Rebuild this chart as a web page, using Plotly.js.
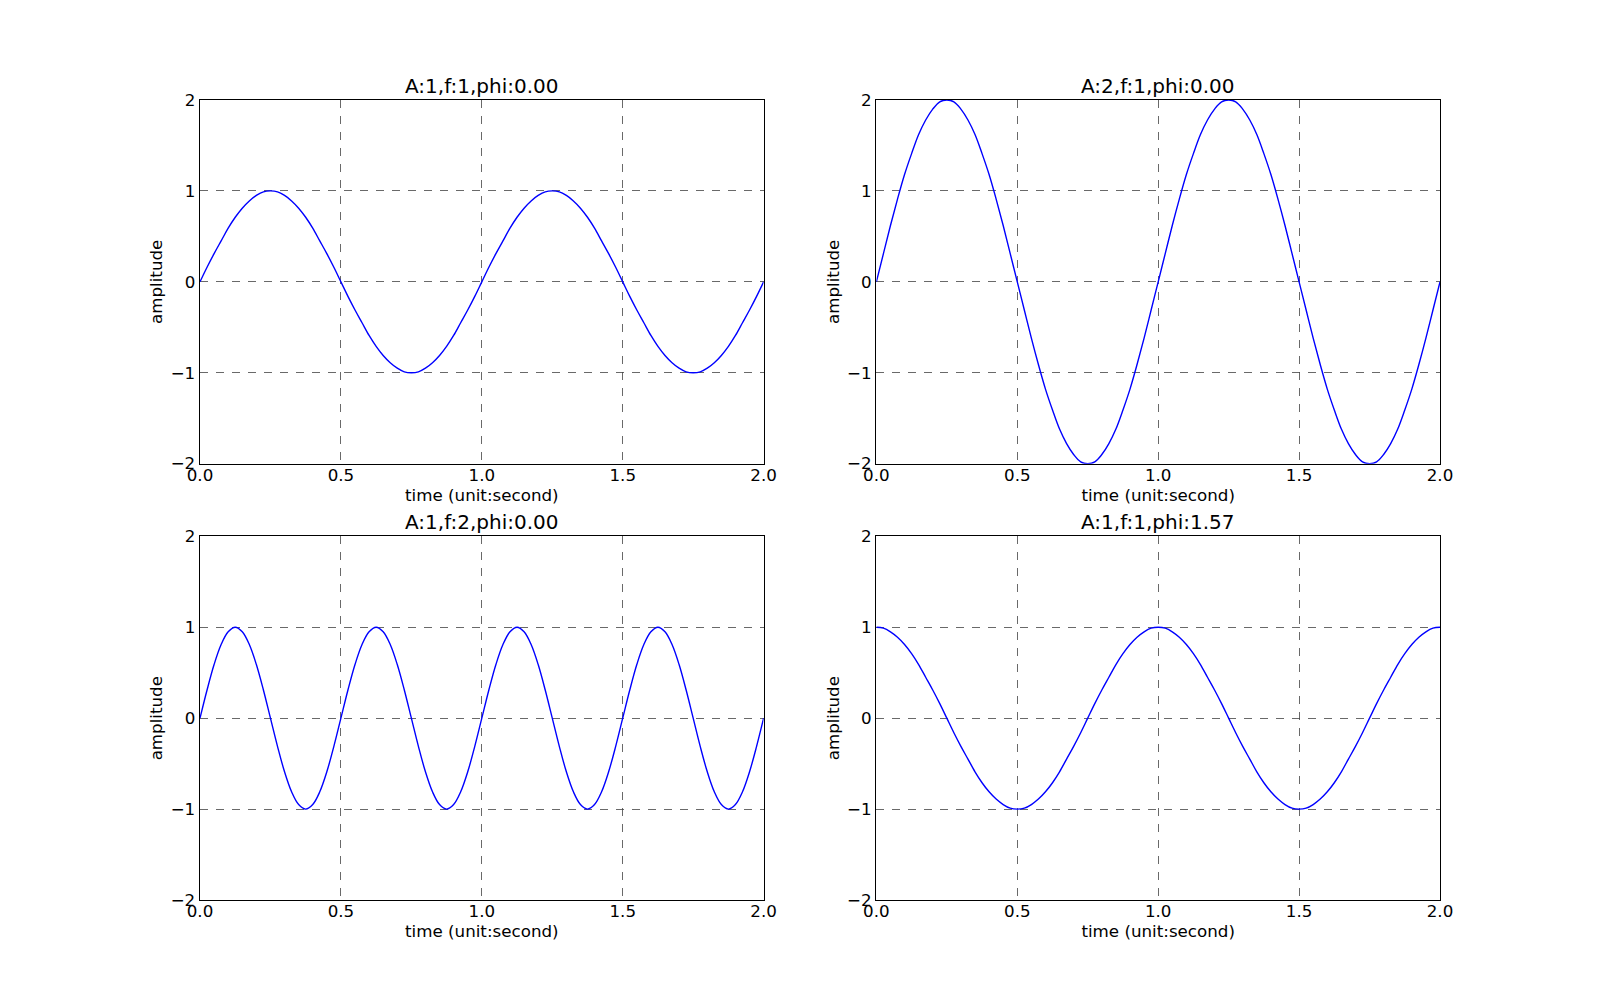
<!DOCTYPE html>
<html>
<head>
<meta charset="utf-8">
<script src="https://cdn.plot.ly/plotly-3.0.1.min.js"></script>
<style>html,body{margin:0;padding:0;background:#fff;}#chart{width:1600px;height:1000px;}</style>
</head>
<body>
<div id="chart"></div>
<script>
// time samples (seconds)
const time = [0,0.025,0.05,0.075,0.1,0.125,0.15,0.175,0.2,0.225,0.25,0.275,0.3,0.325,0.35,0.375,0.4,0.425,0.45,0.475,
  0.5,0.525,0.55,0.575,0.6,0.625,0.65,0.675,0.7,0.725,0.75,0.775,0.8,0.825,0.85,0.875,0.9,0.925,0.95,0.975,
  1,1.025,1.05,1.075,1.1,1.125,1.15,1.175,1.2,1.225,1.25,1.275,1.3,1.325,1.35,1.375,1.4,1.425,1.45,1.475,
  1.5,1.525,1.55,1.575,1.6,1.625,1.65,1.675,1.7,1.725,1.75,1.775,1.8,1.825,1.85,1.875,1.9,1.925,1.95,1.975,2];

// A:1, f:1, phi:0.00
const ampA1F1 = [0,0.16,0.31,0.45,0.59,0.71,0.81,0.89,0.95,0.99,1,0.99,0.95,0.89,0.81,0.71,0.59,0.45,0.31,0.16,
  0,-0.16,-0.31,-0.45,-0.59,-0.71,-0.81,-0.89,-0.95,-0.99,-1,-0.99,-0.95,-0.89,-0.81,-0.71,-0.59,-0.45,-0.31,-0.16,
  0,0.16,0.31,0.45,0.59,0.71,0.81,0.89,0.95,0.99,1,0.99,0.95,0.89,0.81,0.71,0.59,0.45,0.31,0.16,
  0,-0.16,-0.31,-0.45,-0.59,-0.71,-0.81,-0.89,-0.95,-0.99,-1,-0.99,-0.95,-0.89,-0.81,-0.71,-0.59,-0.45,-0.31,-0.16,0];

// A:2, f:1, phi:0.00
const ampA2F1 = [0,0.31,0.62,0.91,1.18,1.41,1.62,1.78,1.9,1.98,2,1.98,1.9,1.78,1.62,1.41,1.18,0.91,0.62,0.31,
  0,-0.31,-0.62,-0.91,-1.18,-1.41,-1.62,-1.78,-1.9,-1.98,-2,-1.98,-1.9,-1.78,-1.62,-1.41,-1.18,-0.91,-0.62,-0.31,
  0,0.31,0.62,0.91,1.18,1.41,1.62,1.78,1.9,1.98,2,1.98,1.9,1.78,1.62,1.41,1.18,0.91,0.62,0.31,
  0,-0.31,-0.62,-0.91,-1.18,-1.41,-1.62,-1.78,-1.9,-1.98,-2,-1.98,-1.9,-1.78,-1.62,-1.41,-1.18,-0.91,-0.62,-0.31,0];

// A:1, f:2, phi:0.00
const ampA1F2 = [0,0.31,0.59,0.81,0.95,1,0.95,0.81,0.59,0.31,0,-0.31,-0.59,-0.81,-0.95,-1,-0.95,-0.81,-0.59,-0.31,
  0,0.31,0.59,0.81,0.95,1,0.95,0.81,0.59,0.31,0,-0.31,-0.59,-0.81,-0.95,-1,-0.95,-0.81,-0.59,-0.31,
  0,0.31,0.59,0.81,0.95,1,0.95,0.81,0.59,0.31,0,-0.31,-0.59,-0.81,-0.95,-1,-0.95,-0.81,-0.59,-0.31,
  0,0.31,0.59,0.81,0.95,1,0.95,0.81,0.59,0.31,0,-0.31,-0.59,-0.81,-0.95,-1,-0.95,-0.81,-0.59,-0.31,0];

// A:1, f:1, phi:1.57
const ampA1F1P = [1,0.99,0.95,0.89,0.81,0.71,0.59,0.45,0.31,0.16,0,-0.16,-0.31,-0.45,-0.59,-0.71,-0.81,-0.89,-0.95,-0.99,
  -1,-0.99,-0.95,-0.89,-0.81,-0.71,-0.59,-0.45,-0.31,-0.16,0,0.16,0.31,0.45,0.59,0.71,0.81,0.89,0.95,0.99,
  1,0.99,0.95,0.89,0.81,0.71,0.59,0.45,0.31,0.16,0,-0.16,-0.31,-0.45,-0.59,-0.71,-0.81,-0.89,-0.95,-0.99,
  -1,-0.99,-0.95,-0.89,-0.81,-0.71,-0.59,-0.45,-0.31,-0.16,0,0.16,0.31,0.45,0.59,0.71,0.81,0.89,0.95,0.99,1];

const titles = ["A:1,f:1,phi:0.00", "A:2,f:1,phi:0.00", "A:1,f:2,phi:0.00", "A:1,f:1,phi:1.57"];
const seriesList = [ampA1F1, ampA2F1, ampA1F2, ampA1F1P];
const xTicks = [0, 0.5, 1, 1.5, 2];
const yTicks = [-2, -1, 0, 1, 2];
const xLabel = "time (unit:second)";
const yLabel = "amplitude";

const FONT = "DejaVu Sans, sans-serif";
const xDomains = [[0.125, 0.47727], [0.54773, 0.9], [0.125, 0.47727], [0.54773, 0.9]];
const yDomains = [[0.53636, 0.9], [0.53636, 0.9], [0.1, 0.46364], [0.1, 0.46364]];

const traces = [];
const layout = {
  width: 1600, height: 1000,
  margin: {l: 0, r: 0, t: 0, b: 0},
  paper_bgcolor: "#fff", plot_bgcolor: "#fff",
  showlegend: false,
  font: {family: FONT, size: 16.7, color: "#000"},
  annotations: []
};

seriesList.forEach((vals, i) => {
  const n = i === 0 ? "" : String(i + 1);
  traces.push({
    x: time, y: vals, type: "scatter", mode: "lines",
    xaxis: "x" + n, yaxis: "y" + n,
    line: {color: "#0000ff", width: 1.4, shape: "spline", smoothing: 1},
    hoverinfo: "skip"
  });
  const common = {
    showline: true, mirror: true, linecolor: "#000", linewidth: 1.4,
    showgrid: true, gridcolor: "#444", gridwidth: 0.8, griddash: "8px,8px",
    zeroline: false, ticks: "", tickfont: {family: FONT, size: 16.7, color: "#000"},
    fixedrange: true
  };
  layout["xaxis" + n] = Object.assign({}, common, {
    domain: xDomains[i], anchor: "y" + n, range: [0, 2],
    tickmode: "array", tickvals: xTicks, ticktext: xTicks.map(v => v.toFixed(1)),
    ticklabelstandoff: -4,
    title: {text: xLabel, font: {family: FONT, size: 16.7, color: "#000"}, standoff: 1}
  });
  layout["yaxis" + n] = Object.assign({}, common, {
    domain: yDomains[i], anchor: "x" + n, range: [-2, 2],
    tickmode: "array", tickvals: yTicks, ticktext: yTicks.map(v => v < 0 ? "\u2212" + Math.abs(v) : String(v)),
    title: {text: yLabel, font: {family: FONT, size: 16.7, color: "#000"}, standoff: 3}
  });
  layout.annotations.push({
    text: titles[i], xref: "paper", yref: "paper",
    x: (xDomains[i][0] + xDomains[i][1]) / 2, y: yDomains[i][1],
    xanchor: "center", yanchor: "bottom", yshift: 0, showarrow: false,
    font: {family: FONT, size: 20, color: "#000"}
  });
});

Plotly.newPlot("chart", traces, layout, {staticPlot: true, displayModeBar: false});
</script>
</body>
</html>
